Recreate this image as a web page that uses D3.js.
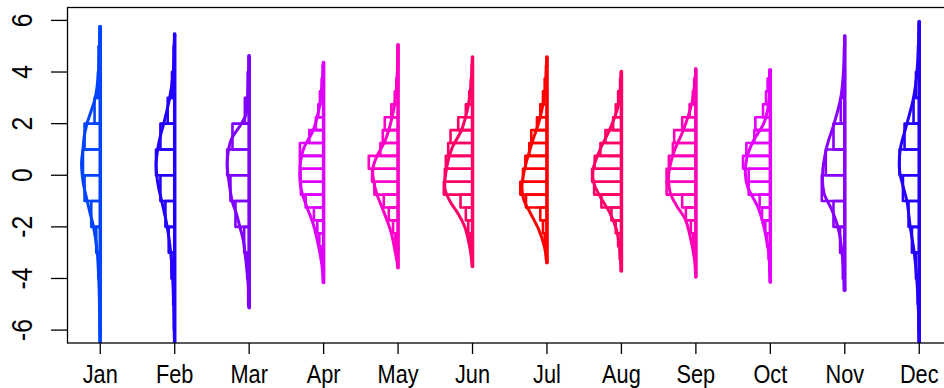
<!DOCTYPE html>
<html>
<head>
<meta charset="utf-8">
<script src="https://cdn.jsdelivr.net/npm/d3@7"></script>
<style>
  body { margin: 0; background: #fff; }
  svg text { font-family: "Liberation Sans", Arial, sans-serif; fill: #000; }
</style>
</head>
<body>
<svg id="chart" width="944" height="388"></svg>
<script>
// month labels and line colours
const months = ["Jan", "Feb", "Mar", "Apr", "May", "Jun", "Jul", "Aug", "Sep", "Oct", "Nov", "Dec"];
const monthColors = ["#0044ff", "#2200ff", "#8000ff", "#dd00ff", "#ff00c8", "#ff0066",
                     "#ff0000", "#ff0066", "#ff00b8", "#e400ff", "#8800ff", "#2400ff"];
const yTicks = [-6, -4, -2, 0, 2, 4, 6];

// range of each month (the vertical line)
const dataMin = [-6.9, -6.9, -5.13, -4.16, -3.58, -3.54, -3.39, -3.71, -3.94, -4.14, -4.46, -6.9];
const dataMax = [5.76, 5.47, 4.63, 4.37, 5.06, 4.58, 4.58, 4.02, 4.12, 4.09, 5.4, 5.96];

// histograms: first break, bin width, density per bin
const binStart = [-7, -7, -6, -4.25, -3.75, -3.75, -3.75, -3.75, -4.25, -4.25, -5, -7];
const binWidth = [1, 1, 1, 0.5, 0.5, 0.5, 0.5, 0.5, 0.5, 0.5, 1, 1];
const binDensity = [
  [0.003, 0.005, 0.010, 0.020, 0.040, 0.090, 0.157, 0.173, 0.157, 0.057, 0.023, 0.017, 0.007],
  [0.003, 0.007, 0.015, 0.033, 0.060, 0.093, 0.143, 0.187, 0.143, 0.070, 0.027, 0.010, 0.005],
  [0.003, 0.010, 0.020, 0.050, 0.137, 0.187, 0.220, 0.167, 0.043, 0.015, 0.005],
  [0.007, 0.013, 0.025, 0.043, 0.063, 0.097, 0.180, 0.227, 0.230, 0.237, 0.237, 0.143, 0.077, 0.053, 0.037, 0.020, 0.010, 0.005],
  [0.005, 0.013, 0.027, 0.050, 0.093, 0.143, 0.237, 0.260, 0.293, 0.177, 0.153, 0.133, 0.067, 0.033, 0.017, 0.008, 0.004, 0.002],
  [0.005, 0.013, 0.027, 0.043, 0.067, 0.120, 0.287, 0.277, 0.267, 0.243, 0.220, 0.143, 0.067, 0.033, 0.017, 0.008, 0.003],
  [0.003, 0.010, 0.023, 0.040, 0.067, 0.210, 0.267, 0.240, 0.217, 0.177, 0.157, 0.100, 0.067, 0.040, 0.023, 0.010, 0.003],
  [0.007, 0.017, 0.033, 0.057, 0.100, 0.200, 0.273, 0.293, 0.267, 0.210, 0.160, 0.083, 0.057, 0.033, 0.013, 0.005],
  [0.003, 0.007, 0.013, 0.027, 0.050, 0.100, 0.137, 0.293, 0.293, 0.270, 0.230, 0.217, 0.137, 0.063, 0.030, 0.017, 0.005],
  [0.005, 0.010, 0.017, 0.033, 0.050, 0.083, 0.107, 0.217, 0.217, 0.273, 0.240, 0.160, 0.150, 0.073, 0.043, 0.027, 0.010],
  [0.010, 0.020, 0.047, 0.113, 0.230, 0.190, 0.113, 0.040, 0.015, 0.007, 0.003],
  [0.003, 0.007, 0.015, 0.033, 0.073, 0.107, 0.163, 0.197, 0.147, 0.057, 0.033, 0.010, 0.003]
];

// density curves: levels and density at each level
const curveLevel = [
  [5.76, 5, 4, 3, 2.5, 2, 1.5, 1, 0.5, 0, -0.5, -1, -1.5, -2, -3, -4, -5, -6, -6.9],
  [5.47, 5, 4, 3, 2, 1.5, 1, 0.5, 0, -0.5, -1, -2, -3, -4, -5, -6, -6.9],
  [4.63, 4, 3, 2.4, 2, 1.4, 0.9, 0.4, -0.3, -1, -1.5, -2, -2.5, -3.3, -4.2, -5.13],
  [4.37, 3.5, 2.75, 2.25, 1.75, 1.0, 0.25, -0.5, -1.2, -1.9, -2.7, -3.4, -4.16],
  [5.06, 4, 3, 2.25, 1.75, 1.25, 0.75, 0.25, -0.25, -0.75, -1.25, -1.75, -2.25, -3, -3.58],
  [4.58, 3.5, 2.75, 2.25, 1.75, 1.0, 0.25, -0.5, -1.0, -1.5, -2.0, -2.8, -3.54],
  [4.58, 4, 3.3, 2.25, 1.25, 0.35, -0.4, -0.94, -1.46, -2.1, -2.75, -3.39],
  [4.02, 3.3, 2.67, 1.77, 0.97, 0.22, -0.29, -0.8, -1.45, -2.1, -2.88, -3.71],
  [4.12, 3.5, 2.8, 1.77, 0.86, 0, -0.67, -1.2, -1.7, -2.5, -3.3, -3.94],
  [4.09, 3.5, 2.75, 2.0, 1.35, 0.7, 0.05, -0.45, -0.8, -1.3, -2.25, -3.0, -4.14],
  [5.4, 4, 3, 2, 1.1, 0, -0.7, -1.4, -2.2, -3.2, -4.46],
  [5.96, 4, 3, 2, 1, 0.2, -0.5, -1, -2, -3, -4.1, -5.35, -6.9]
];
const curveDensity = [
  [0, 0.007, 0.017, 0.05, 0.09, 0.133, 0.16, 0.173, 0.187, 0.18, 0.16, 0.13, 0.10, 0.067, 0.03, 0.015, 0.007, 0.003, 0],
  [0, 0.005, 0.015, 0.05, 0.11, 0.145, 0.17, 0.185, 0.18, 0.16, 0.13, 0.075, 0.04, 0.02, 0.01, 0.005, 0],
  [0, 0.005, 0.015, 0.027, 0.077, 0.177, 0.21, 0.22, 0.2, 0.17, 0.127, 0.093, 0.06, 0.033, 0.01, 0],
  [0, 0.015, 0.037, 0.065, 0.103, 0.203, 0.237, 0.227, 0.17, 0.103, 0.053, 0.02, 0],
  [0, 0.007, 0.025, 0.06, 0.093, 0.14, 0.21, 0.253, 0.243, 0.21, 0.16, 0.11, 0.067, 0.027, 0],
  [0, 0.015, 0.04, 0.07, 0.11, 0.21, 0.26, 0.277, 0.227, 0.143, 0.077, 0.027, 0],
  [0, 0.007, 0.017, 0.067, 0.15, 0.217, 0.25, 0.233, 0.167, 0.083, 0.027, 0],
  [0, 0.013, 0.033, 0.117, 0.217, 0.283, 0.277, 0.217, 0.117, 0.05, 0.017, 0],
  [0, 0.013, 0.04, 0.123, 0.223, 0.273, 0.257, 0.19, 0.107, 0.05, 0.013, 0],
  [0, 0.007, 0.017, 0.067, 0.167, 0.233, 0.25, 0.227, 0.183, 0.117, 0.05, 0.017, 0],
  [0, 0.013, 0.04, 0.107, 0.18, 0.223, 0.207, 0.123, 0.057, 0.023, 0],
  [0, 0.023, 0.057, 0.123, 0.19, 0.197, 0.157, 0.123, 0.09, 0.05, 0.023, 0.007, 0]
];

const svg = d3.select("#chart");
const plotLeft = 67.5, plotTop = 7.5, plotBottom = 343, plotRight = 952;

const x = d3.scaleLinear().domain([0.56, 12.44]).range([plotLeft, plotRight]);
const y = d3.scaleLinear().domain([-6.5, 6.5]).range([plotBottom, plotTop]);
const w = d3.scaleLinear().domain([0, 0.3]).range([0, 30]);

svg.append("clipPath").attr("id", "plotclip")
  .append("rect")
  .attr("x", plotLeft).attr("y", plotTop)
  .attr("width", plotRight - plotLeft).attr("height", plotBottom - plotTop);

const plot = svg.append("g").attr("clip-path", "url(#plotclip)");

months.forEach((m, i) => {
  const x0 = x(i + 1);
  const col = monthColors[i];
  const g = plot.append("g")
    .attr("stroke", col)
    .attr("fill", "none")
    .attr("stroke-linejoin", "round");

  // histogram bars pointing left, kept inside the month's range
  const bins = binDensity[i].map((d, k) => ({
    lo: Math.max(dataMin[i], binStart[i] + k * binWidth[i]),
    hi: Math.min(dataMax[i], binStart[i] + (k + 1) * binWidth[i]),
    d: d
  })).filter(b => b.hi > b.lo);
  g.selectAll("rect")
    .data(bins)
    .join("rect")
    .attr("x", b => x0 - w(b.d))
    .attr("y", b => y(b.hi))
    .attr("width", b => w(b.d))
    .attr("height", b => y(b.lo) - y(b.hi))
    .attr("stroke-width", 2.6);

  // density curve
  const pts = curveLevel[i].map((v, k) => [v, curveDensity[i][k]]);
  g.append("path")
    .datum(pts)
    .attr("stroke-width", 3)
    .attr("d", d3.line()
      .x(p => x0 - w(p[1]))
      .y(p => y(p[0]))
      .curve(d3.curveCatmullRom.alpha(0.5)));

  // range line
  g.append("line")
    .attr("x1", x0).attr("x2", x0)
    .attr("y1", y(dataMin[i])).attr("y2", y(dataMax[i]))
    .attr("stroke-width", 3.5)
    .attr("stroke-linecap", "round");
});

// box
svg.append("rect")
  .attr("x", plotLeft).attr("y", plotTop)
  .attr("width", plotRight - plotLeft).attr("height", plotBottom - plotTop)
  .attr("fill", "none").attr("stroke", "#000").attr("stroke-width", 1.3);

// y axis
const yAxis = svg.append("g");
yAxis.selectAll("line")
  .data(yTicks)
  .join("line")
  .attr("x1", 51).attr("x2", plotLeft)
  .attr("y1", d => y(d)).attr("y2", d => y(d))
  .attr("stroke", "#000").attr("stroke-width", 1.3);
yAxis.selectAll("text")
  .data(yTicks)
  .join("text")
  .attr("transform", d => `translate(31.5,${y(d)}) rotate(-90) scale(0.82,1)`)
  .attr("text-anchor", "middle")
  .attr("font-size", 30)
  .text(d => d);

// x axis
const xAxis = svg.append("g");
xAxis.selectAll("line")
  .data(months)
  .join("line")
  .attr("x1", (d, i) => x(i + 1)).attr("x2", (d, i) => x(i + 1))
  .attr("y1", plotBottom).attr("y2", plotBottom + 11)
  .attr("stroke", "#000").attr("stroke-width", 1.3);
xAxis.selectAll("text")
  .data(months)
  .join("text")
  .attr("transform", (d, i) => `translate(${x(i + 1)},382.5) scale(0.82,1)`)
  .attr("text-anchor", "middle")
  .attr("font-size", 26.5)
  .text(d => d);
</script>
</body>
</html>
